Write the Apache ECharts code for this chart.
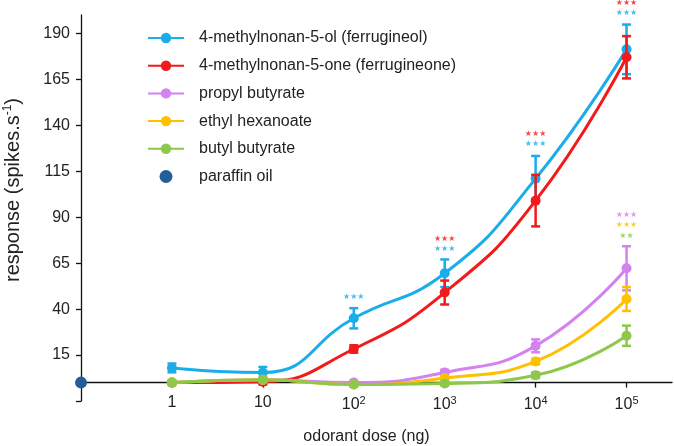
<!DOCTYPE html>
<html>
<head>
<meta charset="utf-8">
<script src="https://cdn.jsdelivr.net/npm/echarts@6/dist/echarts.min.js"></script>
<style>html,body{margin:0;padding:0;background:#fff;}#chart{width:674px;height:446px;}</style>
</head>
<body>
<div id="chart"></div>
<script>
// ---- data ----
const doseExp = [0, 1, 2, 3, 4, 5]; // log10(dose in ng)
const paraffinExp = [-1];
const paraffinVal = [0];

const ferrugineol = [8, 5.5, 35, 59.5, 111, 181.3];
const ferrugineolErr = [2.4, 3, 5.5, 7.5, 12.3, 13.5];
const ferrugineone = [0, 0.5, 18.3, 49, 99, 177];
const ferrugineoneErr = [1, 1.5, 2, 6.5, 14, 11.5];
const propylButyrate = [0, 1.5, 0, 5.5, 20, 62.2];
const propylButyrateErr = [0.5, 1, 1, 1.5, 3.5, 12];
const ethylHexanoate = [0, 1.5, -1, 2.5, 11.5, 45.5];
const ethylHexanoateErr = [0.5, 1, 1, 1, 1.5, 6.5];
const butylButyrate = [0, 1.5, -1, -0.5, 4, 25.5];
const butylButyrateErr = [0.5, 1, 1, 1, 1.5, 5.5];

const yTickLabels = [15, 40, 65, 90, 115, 140, 165, 190];
const yTicks = [-10, 15, 40, 65, 90, 115, 140, 165, 190];

// significance marks
const sigExp   = [2, 3, 3, 4, 4, 5, 5, 5, 5, 5];
const sigVal   = [46.4, 78, 72.7, 135.2, 129.8, 206.7, 201.2, 91.2, 85.7, 79.9];
const sigText  = ['★★★', '★★★', '★★★', '★★★', '★★★', '★★★', '★★★', '★★★', '★★★', '★★'];
const sigSeries = [0, 1, 0, 1, 0, 1, 0, 2, 3, 4];

const names = ['4-methylnonan-5-ol (ferrugineol)', '4-methylnonan-5-one (ferrugineone)',
  'propyl butyrate', 'ethyl hexanoate', 'butyl butyrate', 'paraffin oil'];
const colors = ['#1AADEA', '#F21A1A', '#D482F0', '#FFC000', '#8DC84B', '#245E98'];

const values = [ferrugineol, ferrugineone, propylButyrate, ethylHexanoate, butylButyrate];
const errs = [ferrugineolErr, ferrugineoneErr, propylButyrateErr, ethylHexanoateErr, butylButyrateErr];

const FONT = 'Liberation Sans, Arial, sans-serif';

function lineSeries(i) {
  return {
    name: names[i], type: 'line', smooth: 0.5,
    data: doseExp.map((x, k) => [x, values[i][k]]),
    symbol: 'circle', symbolSize: 10,
    lineStyle: { color: colors[i], width: 3 },
    itemStyle: { color: colors[i] },
    clip: false,
    z: 3 + i * 0.01
  };
}
function errSeries(i) {
  return {
    type: 'custom', name: names[i] + ' err',
    data: doseExp.map((x, k) => [x, values[i][k] - errs[i][k], values[i][k] + errs[i][k]]),
    renderItem: function (params, api) {
      const lo = api.coord([api.value(0), api.value(1)]);
      const hi = api.coord([api.value(0), api.value(2)]);
      const hw = 4.5;
      const st = { stroke: colors[i], lineWidth: 2.5 };
      return { type: 'group', children: [
        { type: 'line', shape: { x1: lo[0], y1: lo[1], x2: hi[0], y2: hi[1] }, style: st },
        { type: 'line', shape: { x1: lo[0] - hw, y1: lo[1], x2: lo[0] + hw, y2: lo[1] }, style: st },
        { type: 'line', shape: { x1: hi[0] - hw, y1: hi[1], x2: hi[0] + hw, y2: hi[1] }, style: st }
      ]};
    },
    clip: false,
    z: 3 + i * 0.01, silent: true
  };
}

const order = [4, 3, 2, 1, 0];
const series = [];
series.push({
  name: names[5], type: 'scatter', symbolSize: 12,
  data: paraffinExp.map((x, k) => [x, paraffinVal[k]]),
  itemStyle: { color: colors[5], opacity: 1 }, clip: false, z: 5
});
order.forEach(i => { series.push(errSeries(i)); series.push(lineSeries(i)); });
series.push({
  type: 'scatter', symbolSize: 0, clip: false, silent: true,
  data: sigExp.map((x, k) => ({
    value: [x, sigVal[k]],
    label: { show: true, formatter: sigText[k], color: colors[sigSeries[k]] }
  })),
  label: { show: true, position: 'inside', fontSize: 8, fontWeight: 'bold', fontFamily: 'DejaVu Sans', offset: [0, 0] },
  z: 6
});

const chart = echarts.init(document.getElementById('chart'), null, { renderer: 'canvas' });
chart.setOption({
  animation: false,
  backgroundColor: '#fff',
  grid: { left: 81, right: 2, top: 15, bottom: 45, containLabel: false, outerBoundsMode: 'none' },
  legend: {
    data: names, orient: 'vertical', left: 142, top: 25,
    itemWidth: 36, itemHeight: 13, itemGap: 11.7,
    textStyle: { fontSize: 16, fontFamily: FONT, color: '#222', padding: [0, 0, 0, 10] },
    selectedMode: false
  },
  xAxis: {
    type: 'value', min: -1, max: 5.5,
    name: 'odorant dose (ng)', nameLocation: 'middle', nameGap: 28,
    nameTextStyle: { fontSize: 16, fontFamily: FONT, color: '#222', padding: [0, 20, 0, 0] },
    axisLine: { onZero: true, lineStyle: { color: '#111', width: 1.3 } },
    axisTick: { show: true, customValues: doseExp, length: 5, lineStyle: { color: '#111', width: 1.3 } },
    axisLabel: {
      customValues: doseExp, margin: -6, fontSize: 16, fontFamily: FONT, color: '#222',
      formatter: v => v === 0 ? '1' : (v === 1 ? '10' : '10{sup|' + v + '}'),
      rich: { sup: { fontSize: 11, fontFamily: FONT, color: '#222', padding: [0, 0, 9, 0] } }
    },
    splitLine: { show: false }
  },
  yAxis: {
    type: 'value', min: -10, max: 200,
    name: 'response (spikes.s{sup|-1})', nameLocation: 'middle', nameGap: 56,
    nameTextStyle: { fontSize: 20, fontFamily: FONT, color: '#222', padding: [0, 0, 0, 36],
      rich: { sup: { fontSize: 12, fontFamily: FONT, color: '#222', padding: [0, 0, 11, 0] } } },
    axisLine: { onZero: false, lineStyle: { color: '#111', width: 1.3 } },
    axisTick: { show: true, customValues: yTicks, length: 5, lineStyle: { color: '#111', width: 1.3 } },
    axisLabel: { customValues: yTickLabels, margin: 11, fontSize: 16, fontFamily: FONT, color: '#222' },
    splitLine: { show: false }
  },
  series: series
});
</script>
</body>
</html>
